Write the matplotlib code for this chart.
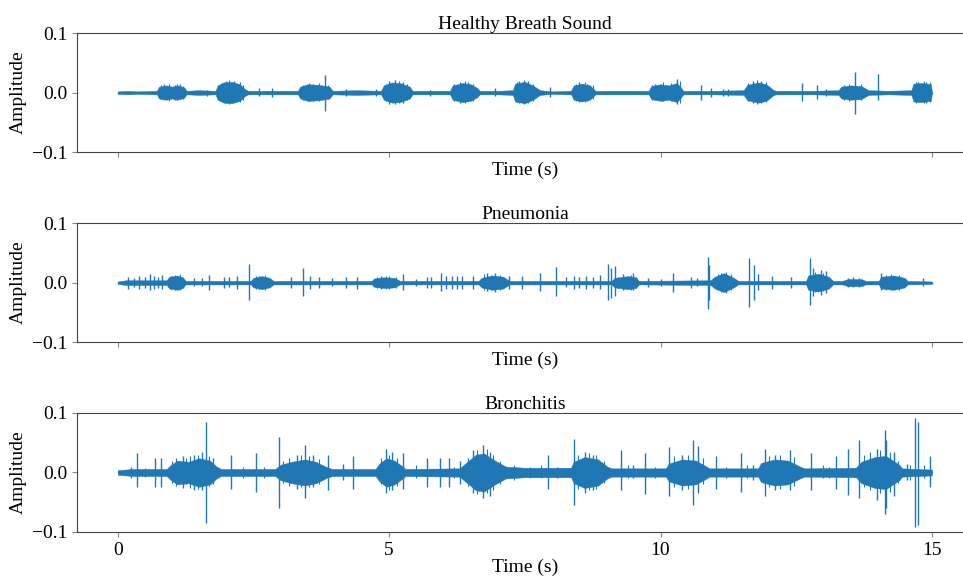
import numpy as np
import matplotlib
matplotlib.use('Agg')
import matplotlib.pyplot as plt

plt.rcParams['font.family'] = ['Liberation Serif', 'DejaVu Serif']
plt.rcParams['font.size'] = 14

titles = ['Healthy Breath Sound', 'Pneumonia', 'Bronchitis']

# envelope knots (time in s, half-height)
healthy_t = [0.0, 0.2, 0.35, 0.72, 0.76, 0.9, 1.0, 1.1, 1.22, 1.27, 1.5, 1.8, 1.84, 1.95, 2.1, 2.25, 2.34,
             2.4, 2.8, 3.32, 3.36, 3.5, 3.7, 3.9, 3.96, 4.4, 4.85, 4.9, 5.05, 5.2, 5.38, 5.43, 5.8, 6.12,
             6.17, 6.35, 6.5, 6.62, 6.67, 7.0, 7.28, 7.32, 7.5, 7.65, 7.78, 8.0, 8.35, 8.4, 8.55, 8.7, 8.8,
             9.3, 9.78, 9.83, 10.0, 10.15, 10.3, 10.38, 10.42, 11.0, 11.53, 11.6, 11.8, 11.95, 12.07, 12.12,
             12.8, 13.28, 13.33, 13.5, 13.7, 13.83, 14.2, 14.62, 14.66, 14.8, 14.98, 15.0]
healthy_env = [0.002, 0.003, 0.002, 0.003, 0.010, 0.012, 0.010, 0.012, 0.009, 0.003, 0.004, 0.003, 0.012,
               0.017, 0.018, 0.014, 0.006, 0.003, 0.003, 0.003, 0.010, 0.014, 0.013, 0.010, 0.003, 0.004,
               0.003, 0.012, 0.017, 0.016, 0.010, 0.003, 0.003, 0.003, 0.012, 0.016, 0.014, 0.008, 0.003,
               0.003, 0.004, 0.015, 0.018, 0.012, 0.004, 0.002, 0.003, 0.012, 0.015, 0.012, 0.003, 0.003,
               0.003, 0.011, 0.014, 0.012, 0.016, 0.008, 0.003, 0.003, 0.004, 0.013, 0.017, 0.014, 0.005,
               0.003, 0.003, 0.004, 0.010, 0.012, 0.011, 0.004, 0.003, 0.004, 0.015, 0.016, 0.014, 0.002]

# isolated clicks
healthy_spk_t = [0.85, 1.05, 1.15, 1.65, 2.0, 2.15, 2.6, 2.85, 3.6, 3.81, 4.2, 4.75, 5.0, 5.1, 5.25, 5.75,
                 6.3, 6.45, 6.95, 7.4, 7.55, 7.96, 8.5, 8.65, 9.9, 10.3, 10.75, 10.93, 11.15, 11.25, 11.7,
                 11.85, 12.6, 12.89, 13.05, 13.59, 14.01, 14.75, 14.9]
healthy_spk_up = [0.014, 0.013, 0.014, 0.005, 0.019, 0.020, 0.007, 0.007, 0.015, 0.030, 0.006, 0.006, 0.020,
                  0.021, 0.018, 0.005, 0.018, 0.017, 0.007, 0.020, 0.019, 0.009, 0.017, 0.014, 0.015, 0.022,
                  0.013, 0.008, 0.006, 0.006, 0.019, 0.020, 0.016, 0.012, 0.006, 0.034, 0.031, 0.018, 0.018]
healthy_spk_dn = [-0.013, -0.012, -0.011, -0.005, -0.017, -0.016, -0.006, -0.007, -0.014, -0.031, -0.005,
                  -0.006, -0.019, -0.019, -0.017, -0.005, -0.018, -0.015, -0.006, -0.018, -0.017, -0.008,
                  -0.016, -0.014, -0.013, -0.020, -0.012, -0.007, -0.005, -0.005, -0.018, -0.018, -0.015,
                  -0.011, -0.005, -0.036, -0.013, -0.016, -0.017]

# ragged peaks inside the bursts
healthy_fine_t = [0.8, 0.95, 1.1, 1.2, 1.9, 2.05, 2.25, 2.3, 3.42, 3.52, 3.7, 3.88, 4.95, 5.18, 5.32, 6.2,
                  6.4, 6.55, 7.35, 7.48, 7.65, 8.45, 8.6, 8.75, 9.85, 10.05, 10.2, 10.35, 11.62, 11.78,
                  11.95, 13.38, 13.48, 13.7, 14.7, 14.85, 14.97]
healthy_fine_up = [0.012, 0.015, 0.015, 0.011, 0.016, 0.021, 0.017, 0.012, 0.013, 0.016, 0.016, 0.012,
                   0.015, 0.019, 0.014, 0.015, 0.019, 0.015, 0.017, 0.021, 0.015, 0.015, 0.018, 0.012,
                   0.013, 0.017, 0.016, 0.019, 0.016, 0.021, 0.017, 0.013, 0.015, 0.014, 0.018, 0.019, 0.017]
healthy_fine_dn = [-0.011, -0.014, -0.013, -0.010, -0.015, -0.019, -0.016, -0.012, -0.012, -0.015, -0.014,
                   -0.011, -0.015, -0.018, -0.013, -0.014, -0.017, -0.014, -0.016, -0.019, -0.014, -0.014,
                   -0.016, -0.011, -0.012, -0.015, -0.014, -0.018, -0.015, -0.019, -0.016, -0.012, -0.014,
                   -0.013, -0.017, -0.018, -0.016]

pneu_t = [0.0, 0.15, 0.5, 0.9, 0.95, 1.1, 1.2, 1.25, 2.45, 2.5, 2.65, 2.8, 2.87, 4.68, 4.72, 4.9, 5.1, 5.2,
          6.65, 6.7, 6.9, 7.1, 7.22, 9.1, 9.15, 9.4, 9.55, 9.6, 10.92, 11.0, 11.17, 11.35, 11.43, 12.68,
          12.72, 12.9, 13.1, 13.18, 13.35, 13.45, 13.7, 13.78, 14.02, 14.06, 14.3, 14.5, 14.55, 15.0]
pneu_env = [0.002, 0.004, 0.004, 0.004, 0.010, 0.012, 0.009, 0.003, 0.003, 0.008, 0.011, 0.008, 0.003,
            0.003, 0.007, 0.009, 0.008, 0.003, 0.003, 0.008, 0.012, 0.010, 0.003, 0.003, 0.008, 0.011,
            0.009, 0.003, 0.004, 0.010, 0.016, 0.008, 0.003, 0.003, 0.012, 0.015, 0.010, 0.003, 0.003,
            0.006, 0.006, 0.003, 0.003, 0.010, 0.012, 0.008, 0.003, 0.002]

pneu_spk_t = [0.19, 0.3, 0.4, 0.5, 0.6, 0.66, 0.75, 0.82, 1.4, 1.55, 1.68, 1.95, 2.05, 2.2, 2.42, 2.6, 3.2,
              3.41, 3.54, 3.7, 3.95, 4.21, 4.4, 4.85, 5.0, 5.26, 5.5, 5.7, 5.78, 5.96, 6.05, 6.15, 6.25,
              6.35, 6.55, 6.8, 6.95, 7.2, 7.45, 7.78, 8.08, 8.25, 8.4, 8.5, 8.62, 8.75, 8.88, 9.03, 9.08,
              9.16, 9.3, 9.5, 9.77, 10.0, 10.23, 10.56, 10.68, 10.87, 10.9, 11.63, 11.73, 11.8, 12.05,
              12.41, 12.75, 12.8, 12.95, 13.05, 13.45, 13.55, 13.65, 14.07, 14.84]
pneu_spk_up = [0.010, 0.008, 0.011, 0.010, 0.014, 0.012, 0.010, 0.013, 0.007, 0.007, 0.013, 0.010, 0.010,
               0.011, 0.031, 0.012, 0.010, 0.024, 0.012, 0.010, 0.007, 0.010, 0.010, 0.012, 0.011, 0.014,
               0.006, 0.010, 0.010, 0.016, 0.012, 0.012, 0.012, 0.012, 0.012, 0.016, 0.016, 0.012, 0.012,
               0.016, 0.027, 0.010, 0.012, 0.010, 0.012, 0.010, 0.013, 0.032, 0.025, 0.028, 0.015, 0.016,
               0.008, 0.006, 0.017, 0.010, 0.007, 0.043, 0.030, 0.041, 0.030, 0.015, 0.012, 0.010, 0.041,
               0.025, 0.022, 0.020, 0.008, 0.009, 0.008, 0.016, 0.007]
pneu_spk_dn = [-0.010, -0.007, -0.010, -0.009, -0.012, -0.010, -0.009, -0.011, -0.006, -0.006, -0.012,
               -0.009, -0.008, -0.010, -0.030, -0.010, -0.009, -0.023, -0.011, -0.009, -0.006, -0.009,
               -0.010, -0.010, -0.010, -0.012, -0.006, -0.009, -0.009, -0.014, -0.011, -0.010, -0.011,
               -0.010, -0.010, -0.014, -0.015, -0.011, -0.011, -0.014, -0.023, -0.008, -0.010, -0.009,
               -0.010, -0.009, -0.011, -0.030, -0.025, -0.022, -0.012, -0.013, -0.007, -0.005, -0.015,
               -0.009, -0.006, -0.045, -0.030, -0.041, -0.030, -0.013, -0.010, -0.009, -0.038, -0.022,
               -0.020, -0.018, -0.007, -0.008, -0.007, -0.013, -0.006]

pneu_fine_t = [0.98, 1.06, 1.15, 2.55, 2.72, 4.78, 4.95, 5.12, 6.75, 6.88, 7.05, 9.22, 9.45, 11.05, 11.12,
               11.2, 11.3, 12.85, 13.0, 14.15, 14.25, 14.4]
pneu_fine_up = [0.012, 0.013, 0.014, 0.011, 0.013, 0.010, 0.011, 0.010, 0.014, 0.013, 0.013, 0.010, 0.013,
                0.014, 0.017, 0.018, 0.014, 0.018, 0.016, 0.013, 0.014, 0.013]
pneu_fine_dn = [-0.011, -0.012, -0.012, -0.010, -0.012, -0.009, -0.010, -0.009, -0.012, -0.012, -0.012,
                -0.009, -0.012, -0.012, -0.016, -0.017, -0.012, -0.016, -0.014, -0.012, -0.013, -0.012]

bron_t = [0.0, 0.3, 0.9, 0.98, 1.1, 1.3, 1.5, 1.7, 1.82, 1.9, 2.9, 3.0, 3.2, 3.45, 3.65, 3.85, 3.95, 4.75,
          4.82, 4.95, 5.1, 5.25, 5.3, 6.3, 6.4, 6.6, 6.75, 6.95, 7.15, 7.5, 7.7, 8.35, 8.4, 8.6, 8.85, 9.02,
          9.1, 10.1, 10.15, 10.4, 10.65, 10.85, 10.9, 11.8, 11.85, 12.1, 12.35, 12.57, 12.65, 13.6, 13.7,
          13.95, 14.15, 14.4, 14.45, 15.0]
bron_env = [0.004, 0.006, 0.006, 0.013, 0.020, 0.018, 0.024, 0.020, 0.010, 0.006, 0.006, 0.013, 0.018,
            0.022, 0.018, 0.009, 0.006, 0.006, 0.015, 0.024, 0.020, 0.010, 0.006, 0.007, 0.015, 0.030,
            0.032, 0.020, 0.010, 0.008, 0.008, 0.008, 0.018, 0.026, 0.022, 0.010, 0.007, 0.007, 0.015,
            0.022, 0.020, 0.010, 0.007, 0.007, 0.016, 0.022, 0.020, 0.010, 0.007, 0.008, 0.018, 0.026,
            0.028, 0.013, 0.007, 0.005]

bron_spk_t = [0.25, 0.35, 0.69, 0.79, 1.2, 1.4, 1.55, 1.62, 1.75, 2.09, 2.54, 2.98, 3.3, 3.45, 3.6, 3.87,
              4.15, 4.34, 4.95, 5.05, 5.25, 5.69, 5.93, 6.1, 6.3, 6.55, 6.73, 6.85, 7.93, 8.1, 8.41, 8.6,
              8.75, 9.28, 9.5, 9.71, 10.16, 10.4, 10.6, 10.69, 11.03, 11.49, 11.7, 11.93, 12.1, 12.38,
              12.78, 13.24, 13.46, 13.66, 13.98, 14.13, 14.16, 14.3, 14.55, 14.69, 14.75, 14.96]
bron_spk_up = [0.010, 0.032, 0.025, 0.025, 0.028, 0.030, 0.035, 0.085, 0.025, 0.030, 0.032, 0.060, 0.030,
               0.046, 0.030, 0.030, 0.015, 0.027, 0.040, 0.035, 0.032, 0.025, 0.025, 0.025, 0.020, 0.038,
               0.046, 0.035, 0.029, 0.010, 0.056, 0.035, 0.030, 0.038, 0.012, 0.032, 0.043, 0.030, 0.055,
               0.045, 0.027, 0.033, 0.012, 0.040, 0.030, 0.038, 0.032, 0.027, 0.040, 0.055, 0.040, 0.071,
               0.055, 0.035, 0.015, 0.092, 0.085, 0.027]
bron_spk_dn = [-0.009, -0.024, -0.024, -0.024, -0.026, -0.030, -0.030, -0.085, -0.020, -0.028, -0.032,
               -0.059, -0.028, -0.043, -0.025, -0.030, -0.013, -0.027, -0.035, -0.030, -0.028, -0.025,
               -0.025, -0.025, -0.020, -0.035, -0.043, -0.040, -0.027, -0.010, -0.055, -0.035, -0.030,
               -0.030, -0.010, -0.036, -0.040, -0.030, -0.055, -0.035, -0.027, -0.033, -0.012, -0.040,
               -0.030, -0.030, -0.030, -0.027, -0.038, -0.043, -0.046, -0.069, -0.060, -0.040, -0.013,
               -0.091, -0.088, -0.024]

bron_fine_t = [0.5, 1.0, 1.08, 1.25, 1.33, 1.48, 1.68, 2.3, 2.7, 3.05, 3.15, 3.38, 3.52, 3.7, 4.85, 5.0,
               5.15, 5.5, 6.2, 6.45, 6.62, 6.8, 6.92, 7.05, 7.3, 7.6, 7.8, 8.48, 8.68, 8.82, 8.95, 9.4, 9.9,
               10.25, 10.5, 10.78, 11.2, 11.6, 12.0, 12.2, 12.45, 13.0, 13.1, 13.75, 13.85, 14.05, 14.22,
               14.38, 14.6, 14.85]
bron_fine_up = [0.008, 0.020, 0.025, 0.024, 0.028, 0.030, 0.028, 0.010, 0.010, 0.020, 0.025, 0.030, 0.028,
                0.022, 0.025, 0.030, 0.024, 0.012, 0.010, 0.025, 0.038, 0.040, 0.030, 0.020, 0.012, 0.010,
                0.012, 0.030, 0.032, 0.030, 0.020, 0.012, 0.010, 0.028, 0.030, 0.025, 0.010, 0.012, 0.028,
                0.030, 0.026, 0.012, 0.010, 0.030, 0.035, 0.038, 0.035, 0.020, 0.012, 0.012]
bron_fine_dn = [-0.008, -0.018, -0.022, -0.020, -0.026, -0.028, -0.022, -0.010, -0.009, -0.018, -0.022,
                -0.025, -0.024, -0.020, -0.020, -0.030, -0.022, -0.010, -0.010, -0.022, -0.036, -0.035,
                -0.030, -0.020, -0.012, -0.010, -0.010, -0.028, -0.030, -0.028, -0.018, -0.010, -0.010,
                -0.025, -0.028, -0.020, -0.010, -0.010, -0.025, -0.028, -0.022, -0.010, -0.010, -0.025,
                -0.030, -0.035, -0.032, -0.018, -0.012, -0.010]

envs = [(healthy_t, healthy_env), (pneu_t, pneu_env), (bron_t, bron_env)]
spikes = [(healthy_spk_t, healthy_spk_up, healthy_spk_dn),
          (pneu_spk_t, pneu_spk_up, pneu_spk_dn),
          (bron_spk_t, bron_spk_up, bron_spk_dn)]
fine = [(healthy_fine_t, healthy_fine_up, healthy_fine_dn),
        (pneu_fine_t, pneu_fine_up, pneu_fine_dn),
        (bron_fine_t, bron_fine_up, bron_fine_dn)]

fig = plt.figure(figsize=(9.63, 5.76), dpi=100)
bottoms = [0.736, 0.406, 0.0764]
blue = '#1f77b4'

for i in range(3):
    ax = fig.add_axes([0.080, bottoms[i], 0.930, 0.2066])
    t, env = envs[i]
    env = np.array(env)
    ax.fill_between(t, -env, env, color=blue, lw=0.3, edgecolor=blue)
    st, up, dn = spikes[i]
    ax.vlines(st, dn, up, color=blue, lw=1.0)
    st, up, dn = fine[i]
    ax.vlines(st, dn, up, color=blue, lw=0.8)
    ax.plot([t[0], t[-1]], [0, 0], color=blue, lw=1.0)

    ax.set_xlim(-0.75, 15.75)
    ax.set_ylim(-0.1, 0.1)
    ax.set_yticks([-0.1, 0.0, 0.1])
    ax.set_xticks([0, 5, 10, 15])
    if i < 2:
        ax.set_xticklabels([])
    ax.set_xlabel('Time (s)', labelpad=0)
    ax.set_ylabel('Amplitude')
    ax.set_title(titles[i], pad=3, fontsize=14)
    for s in ax.spines.values():
        s.set_color('#444444')
    ax.tick_params(color='#888888')

plt.savefig('out.png', dpi=100)
